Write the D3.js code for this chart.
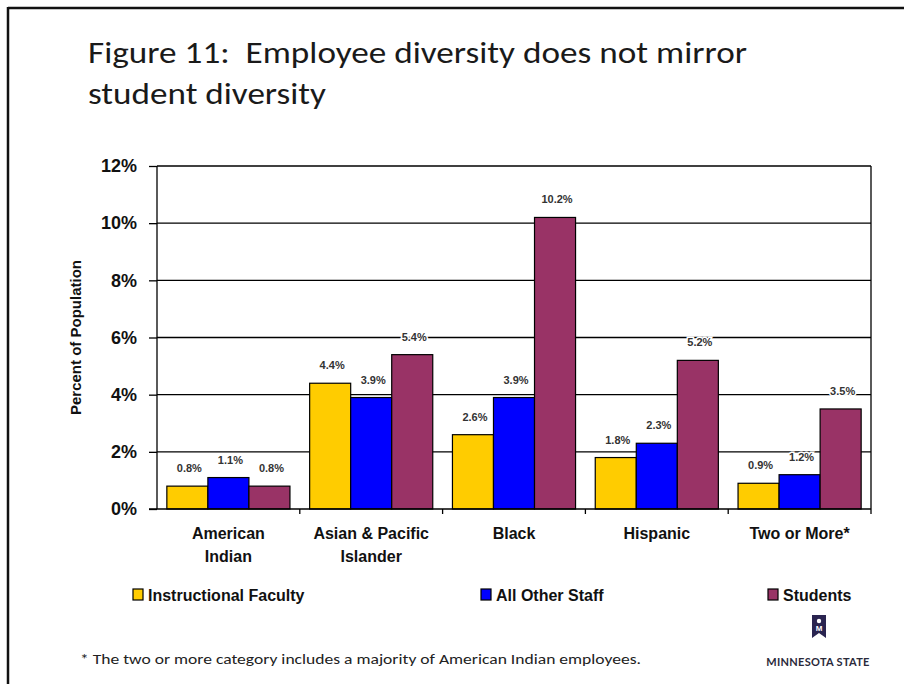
<!DOCTYPE html>
<html>
<head>
<meta charset="utf-8">
<script src="https://cdn.jsdelivr.net/npm/d3@7"></script>
<style>
  html, body { margin: 0; padding: 0; background: #fff; }
  svg { display: block; }
  text { white-space: pre; }
</style>
</head>
<body>
<svg id="chart" width="904" height="684"></svg>
<script>
// ---- data ----
const categories = ["American Indian", "Asian & Pacific Islander", "Black", "Hispanic", "Two or More*"];
const categoryLines = [["American", "Indian"], ["Asian & Pacific", "Islander"], ["Black"], ["Hispanic"], ["Two or More*"]];
const seriesNames = ["Instructional Faculty", "All Other Staff", "Students"];
const facultyValues = [0.8, 4.4, 2.6, 1.8, 0.9];
const staffValues = [1.1, 3.9, 3.9, 2.3, 1.2];
const studentValues = [0.8, 5.4, 10.2, 5.2, 3.5];
const seriesColors = ["#FFCC00", "#0000FF", "#993366"];
const yTicks = [0, 2, 4, 6, 8, 10, 12];

const allValues = [facultyValues, staffValues, studentValues];

const svg = d3.select("#chart");
const bold = "Liberation Sans, Arial, Helvetica, sans-serif";
const calibri = "Carlito, Calibri, Lato, sans-serif";

// slide frame (top and left edges)
svg.append("line").attr("x1", 8).attr("x2", 904).attr("y1", 8).attr("y2", 8)
  .attr("stroke", "#111").attr("stroke-width", 2.5);
svg.append("line").attr("x1", 8).attr("x2", 8).attr("y1", 7).attr("y2", 684)
  .attr("stroke", "#111").attr("stroke-width", 2.5);

// title
const title = svg.append("text").attr("font-family", calibri).attr("font-size", 31).attr("fill", "#1a1a1a");
title.append("tspan").attr("x", 88).attr("y", 63).attr("textLength", 659).attr("lengthAdjust", "spacingAndGlyphs")
  .text("Figure 11:  Employee diversity does not mirror");
title.append("tspan").attr("x", 88).attr("y", 104).attr("textLength", 238).attr("lengthAdjust", "spacingAndGlyphs")
  .text("student diversity");

// plot area
const plotLeft = 157, plotRight = 871, plotTop = 166, plotBottom = 509;
const x0 = d3.scaleBand().domain(categories).range([plotLeft, plotRight]).paddingInner(0).paddingOuter(0);
const x1 = d3.scaleBand().domain(seriesNames).range([0, x0.bandwidth()]).paddingInner(0).paddingOuter(0.24);
const y = d3.scaleLinear().domain([0, 12]).range([plotBottom, plotTop]);

// gridlines
svg.append("g").selectAll("line").data(yTicks.filter(d => d > 0)).join("line")
  .attr("x1", plotLeft).attr("x2", plotRight)
  .attr("y1", d => y(d)).attr("y2", d => y(d))
  .attr("stroke", "#000").attr("stroke-width", 1.3);

// right edge of plot area
svg.append("line").attr("x1", plotRight).attr("x2", plotRight).attr("y1", plotTop).attr("y2", plotBottom)
  .attr("stroke", "#000").attr("stroke-width", 1.3);

// bars
const groups = svg.append("g").selectAll("g").data(categories).join("g")
  .attr("transform", d => `translate(${x0(d)},0)`);
groups.selectAll("rect")
  .data((c, i) => seriesNames.map((s, j) => ({ s, j, v: allValues[j][i] })))
  .join("rect")
  .attr("x", d => x1(d.s))
  .attr("y", d => y(d.v))
  .attr("width", x1.bandwidth())
  .attr("height", d => y(0) - y(d.v))
  .attr("fill", d => seriesColors[d.j])
  .attr("stroke", "#000").attr("stroke-width", 1.2);

// value labels (white halo keeps them readable over gridlines)
groups.selectAll("text.val")
  .data((c, i) => seriesNames.map((s, j) => ({ s, j, v: allValues[j][i] })))
  .join("text").attr("class", "val")
  .attr("x", d => x1(d.s) + x1.bandwidth() / 2 + 2)
  .attr("y", d => y(d.v) - 14)
  .attr("text-anchor", "middle")
  .attr("font-family", bold).attr("font-weight", "bold").attr("font-size", 11)
  .attr("fill", "#333")
  .attr("stroke", "#fff").attr("stroke-width", 3).attr("paint-order", "stroke")
  .text(d => d.v.toFixed(1) + "%");

// y axis
const yAxis = svg.append("g").attr("transform", `translate(${plotLeft},0)`)
  .call(d3.axisLeft(y).tickValues(yTicks).tickFormat(d => d + "%").tickSize(8).tickPadding(12));
yAxis.select(".domain").attr("stroke", "#000").attr("stroke-width", 1.3).attr("d", `M0,${plotTop}V${plotBottom}`);
yAxis.selectAll(".tick line").attr("stroke", "#000").attr("stroke-width", 1.3);
yAxis.selectAll(".tick text").attr("font-family", bold).attr("font-weight", "bold")
  .attr("font-size", 18).attr("fill", "#111");

// x axis with boundary ticks
const xAxis = svg.append("g").attr("transform", `translate(0,${plotBottom})`);
xAxis.append("line").attr("x1", plotLeft - 8).attr("x2", plotRight).attr("y1", 0).attr("y2", 0)
  .attr("stroke", "#000").attr("stroke-width", 1.3);
xAxis.selectAll("line.tick").data(categories.slice(1)).join("line").attr("class", "tick")
  .attr("x1", d => x0(d)).attr("x2", d => x0(d)).attr("y1", 0).attr("y2", 5)
  .attr("stroke", "#000").attr("stroke-width", 1.3);
xAxis.append("line").attr("x1", plotRight).attr("x2", plotRight).attr("y1", 0).attr("y2", 5)
  .attr("stroke", "#000").attr("stroke-width", 1.3);
const xl = xAxis.selectAll("text").data(categories).join("text")
  .attr("text-anchor", "middle")
  .attr("font-family", bold).attr("font-weight", "bold").attr("font-size", 16).attr("fill", "#111");
xl.each(function (d, i) {
  const t = d3.select(this);
  categoryLines[i].forEach((ln, k) => {
    t.append("tspan").attr("x", x0(d) + x0.bandwidth() / 2).attr("y", 30 + k * 23).text(ln);
  });
});

// y axis title
svg.append("text")
  .attr("transform", `translate(81,${(plotTop + plotBottom) / 2}) rotate(-90)`)
  .attr("text-anchor", "middle")
  .attr("font-family", bold).attr("font-weight", "bold").attr("font-size", 15).attr("fill", "#111")
  .text("Percent of Population");

// legend
const legendX = [133, 481, 768];
const legend = svg.append("g").selectAll("g").data(seriesNames).join("g")
  .attr("transform", (d, i) => `translate(${legendX[i]},589)`);
legend.append("rect").attr("width", 10).attr("height", 11)
  .attr("fill", (d, i) => seriesColors[i]).attr("stroke", "#000").attr("stroke-width", 1.2);
legend.append("text").attr("x", 15).attr("y", 11.5)
  .attr("font-family", bold).attr("font-weight", "bold").attr("font-size", 16).attr("fill", "#111")
  .text(d => d);

// footnote
svg.append("text").attr("x", 80).attr("y", 664)
  .attr("font-family", calibri).attr("font-size", 14).attr("fill", "#222")
  .attr("textLength", 561).attr("lengthAdjust", "spacingAndGlyphs")
  .text("* The two or more category includes a majority of American Indian employees.");

// Minnesota State logo mark
const logo = svg.append("g").attr("transform", "translate(819,615)");
logo.append("path")
  .attr("d", "M-7,0 H7 V23 L0,18 L-7,23 Z")
  .attr("fill", "#2a2450");
logo.append("circle").attr("cx", 0).attr("cy", 6).attr("r", 2.2).attr("fill", "#fff");
logo.append("text").attr("x", 0).attr("y", 16).attr("text-anchor", "middle")
  .attr("font-family", bold).attr("font-weight", "bold").attr("font-size", 8).attr("fill", "#fff").text("M");
svg.append("text").attr("x", 818).attr("y", 666).attr("text-anchor", "middle")
  .attr("font-family", "Lato, sans-serif").attr("font-weight", "bold").attr("font-size", 11)
  .attr("letter-spacing", 0.3).attr("fill", "#2a2a3a")
  .text("MINNESOTA STATE");
</script>
</body>
</html>
